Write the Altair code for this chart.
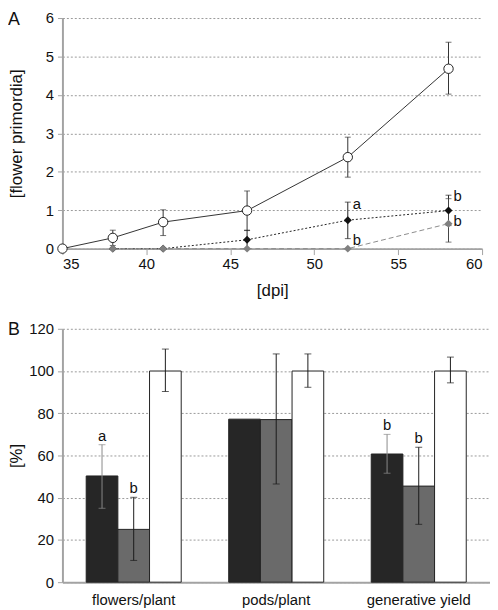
import altair as alt
import pandas as pd

FONT = "Liberation Sans"

# ---------- Panel A data ----------
dpi_open = [35, 38, 41, 46, 52, 58]
open_mean = [0, 0.28, 0.69, 0.99, 2.38, 4.68]
open_lo = [0, 0.08, 0.34, 0.47, 1.86, 4.02]
open_hi = [0, 0.48, 1.01, 1.50, 2.90, 5.37]

dpi_mut = [38, 41, 46, 52, 58]
black_mean = [0, 0, 0.23, 0.74, 0.99]
black_lo = [0, 0, 0, 0.26, 0.60]
black_hi = [0, 0, 0.48, 1.21, 1.39]
gray_mean = [0, 0, 0, 0, 0.65]
gray_lo = [0, 0, 0, 0, 0.17]
gray_hi = [0, 0, 0, 0, 1.30]

a_lab_x = [52, 58, 52, 58]
a_lab_y = [1.17, 1.38, 0.22, 0.72]
a_lab_t = ["a", "b", "b", "b"]

x_ticks = [35, 40, 45, 50, 55, 60]
y_ticks_a = [0, 1, 2, 3, 4, 5, 6]

# ---------- Panel B data ----------
cats = ["flowers/plant", "pods/plant", "generative yield"]
series = ["s1", "s2", "s3"]
b_val = {"s1": [50.3, 77.2, 60.7], "s2": [25.0, 77.0, 45.5], "s3": [100, 100, 100]}
b_lo = {"s1": [35.0, None, 51.6], "s2": [10.3, 46.5, 27.4], "s3": [90.3, 92.3, 94.4]}
b_hi = {"s1": [65.1, None, 70.0], "s2": [40.2, 108.1, 63.9], "s3": [110.4, 108.1, 106.6]}
b_lab = {"s1": ["a", "", "b"], "s2": ["b", "", "b"], "s3": ["", "", ""]}
fill_cols = ["#262626", "#6a6a6a", "#ffffff"]
err_cols = ["#8a8a8a", "#1a1a1a", "#1a1a1a"]
y_ticks_b = [0, 20, 40, 60, 80, 100, 120]

WA, HA = 424, 233
WB, HB = 432, 256

open_df = pd.DataFrame({"dpi": dpi_open, "m": open_mean, "lo": open_lo, "hi": open_hi})
black_df = pd.DataFrame({"dpi": dpi_mut, "m": black_mean, "lo": black_lo, "hi": black_hi})
gray_df = pd.DataFrame({"dpi": dpi_mut, "m": gray_mean, "lo": gray_lo, "hi": gray_hi})
alab_df = pd.DataFrame({"dpi": a_lab_x, "y": a_lab_y, "t": a_lab_t})

xs = alt.Scale(domain=[35, 60], nice=False, zero=False)
ys = alt.Scale(domain=[0, 6], nice=False)
xaxA = alt.Axis(values=x_ticks, title="[dpi]", grid=False, tickSize=6, labelPadding=2,
                titlePadding=11, labelFontSize=15, titleFontSize=17)
yaxA = alt.Axis(values=y_ticks_a, title="[flower primordia]", grid=True, gridDash=[2, 2],
                gridColor="#9a9a9a", tickSize=5, labelPadding=4, labelFontSize=15,
                titleFontSize=17, titleX=-46, titleBaseline="middle")

def X():
    return alt.X("dpi:Q", scale=xs, axis=xaxA)

def Y(field="m"):
    return alt.Y(f"{field}:Q", scale=ys, axis=yaxA)

def err_layers(df, color):
    d = df[df["hi"] > df["lo"]]
    base = alt.Chart(d)
    r = base.mark_rule(color=color, strokeWidth=1).encode(x=X(), y=Y("lo"), y2="hi:Q")
    t1 = base.mark_tick(color=color, thickness=1, size=6, orient="horizontal").encode(x=X(), y=Y("hi"))
    t2 = base.mark_tick(color=color, thickness=1, size=6, orient="horizontal").encode(x=X(), y=Y("lo"))
    return [r, t1, t2]

black_line = alt.Chart(black_df).mark_line(color="#222222", strokeWidth=1, strokeDash=[2, 2]).encode(x=X(), y=Y())
black_pts = alt.Chart(black_df).mark_point(shape="diamond", filled=True, color="#111111", size=65, opacity=1).encode(x=X(), y=Y())
gray_line = alt.Chart(gray_df).mark_line(color="#8c8c8c", strokeWidth=1, strokeDash=[5, 3]).encode(x=X(), y=Y())
gray_pts = alt.Chart(gray_df).mark_point(shape="diamond", filled=True, color="#808080", size=65, opacity=1).encode(x=X(), y=Y())
open_line = alt.Chart(open_df).mark_line(color="#333333", strokeWidth=1).encode(x=X(), y=Y())
open_pts = alt.Chart(open_df).mark_point(shape="circle", filled=True, fill="white", stroke="#222222",
                                          strokeWidth=1, size=90, opacity=1).encode(x=X(), y=Y())
alabels = alt.Chart(alab_df).mark_text(font=FONT, fontSize=15, align="left", baseline="middle", dx=5,
                                       color="#111111").encode(x=X(), y=Y("y"), text="t:N")
panelA = alt.Chart(pd.DataFrame({"t": ["A"]})).mark_text(
    font=FONT, fontSize=18, align="left", baseline="middle", color="#111111"
).encode(x=alt.value(-55), y=alt.value(2), text="t:N")

chartA = alt.layer(
    *err_layers(open_df, "#333333"),
    *err_layers(black_df, "#222222"),
    *err_layers(gray_df, "#444444"),
    open_line, black_line, gray_line,
    black_pts, gray_pts, open_pts, alabels, panelA,
).properties(width=WA, height=HA)

# ---------- Panel B ----------
rows = []
for si, s in enumerate(series):
    for ci, c in enumerate(cats):
        rows.append({"cat": c, "ser": s, "v": b_val[s][ci], "lo": b_lo[s][ci], "hi": b_hi[s][ci],
                     "lab": b_lab[s][ci], "fill": fill_cols[si], "ecol": err_cols[si]})
bdf = pd.DataFrame(rows)
edf = bdf.dropna(subset=["lo"])
ldf = bdf[bdf["lab"] != ""]

bx = alt.X("cat:N", sort=cats, scale=alt.Scale(paddingInner=1/3, paddingOuter=1/6),
           axis=alt.Axis(title=None, labelAngle=0, ticks=False, labelPadding=11, labelFontSize=15))
bxo = alt.XOffset("ser:N", sort=series, scale=alt.Scale(paddingInner=0, paddingOuter=0))
bys = alt.Scale(domain=[0, 120], nice=False)
yaxB = alt.Axis(values=y_ticks_b, title="[%]", grid=True, gridDash=[2, 2],
                gridColor="#9a9a9a", tickSize=5, labelPadding=4,
                labelFontSize=15, titleFontSize=17, titleX=-46, titleBaseline="middle")

def BY(f):
    return alt.Y(f"{f}:Q", scale=bys, axis=yaxB)

bars = alt.Chart(bdf).mark_bar(stroke="#222222", strokeWidth=1).encode(
    x=bx, xOffset=bxo, y=BY("v"), fill=alt.Fill("fill:N", scale=None),
)
erule = alt.Chart(edf).mark_rule(strokeWidth=1).encode(
    x=bx, xOffset=bxo, y=BY("lo"), y2="hi:Q", color=alt.Color("ecol:N", scale=None))
etop = alt.Chart(edf).mark_tick(thickness=1, size=7, orient="horizontal").encode(
    x=bx, xOffset=bxo, y=BY("hi"), color=alt.Color("ecol:N", scale=None))
ebot = alt.Chart(edf).mark_tick(thickness=1, size=7, orient="horizontal").encode(
    x=bx, xOffset=bxo, y=BY("lo"), color=alt.Color("ecol:N", scale=None))
blabels = alt.Chart(ldf).mark_text(font=FONT, fontSize=15, baseline="bottom", dy=-1, color="#111111").encode(
    x=bx, xOffset=bxo, y=BY("hi"), text="lab:N")
panelB = alt.Chart(pd.DataFrame({"t": ["B"]})).mark_text(
    font=FONT, fontSize=18, align="left", baseline="middle", color="#111111"
).encode(x=alt.value(-55), y=alt.value(1), text="t:N")

chartB = alt.layer(bars, erule, etop, ebot, blabels, panelB).properties(width=WB, height=HB)

chart = alt.vconcat(chartA, chartB, spacing=23).properties(
    padding={"left": 0, "top": 0, "right": 0, "bottom": 0}
).configure_view(stroke=None).configure_axis(
    domainColor="#a3a3a3", domainWidth=2, tickColor="#a3a3a3", tickWidth=1,
    labelFont=FONT, titleFont=FONT, labelColor="#111111", titleColor="#111111",
    titleFontWeight="normal",
)

chart.save("out.html", embed_options={"renderer": "svg", "actions": False})
